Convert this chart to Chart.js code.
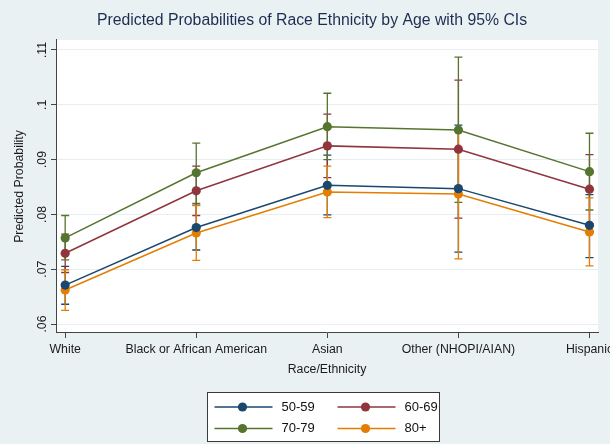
<!DOCTYPE html>
<html>
<head>
<meta charset="utf-8">
<title>Predicted Probabilities of Race Ethnicity by Age</title>
<script src="https://cdn.jsdelivr.net/npm/chart.js@4.4.1/dist/chart.umd.min.js"></script>
<style>
  html, body { margin: 0; padding: 0; background: #eaf1f3; overflow: hidden; }
  #wrap { width: 610px; height: 444px; }
</style>
</head>
<body>
<div id="wrap"><canvas id="chart" width="610" height="444"></canvas></div>
<script>
// Race/ethnicity groups along the x axis
const categories = ['White', 'Black or African American', 'Asian', 'Other (NHOPI/AIAN)', 'Hispanic'];

// Y axis ticks
const yTickValues = [0.06, 0.07, 0.08, 0.09, 0.10, 0.11];
const yTickLabels = ['.06', '.07', '.08', '.09', '.1', '.11'];

// Age group labels
const ageGroups = ['50-59', '60-69', '70-79', '80+'];

// Predicted probabilities with 95% confidence limits, per age group
const age50 = [0.0671, 0.0776, 0.0853, 0.0847, 0.0780];
const age50Low = [0.0636, 0.0735, 0.0799, 0.0731, 0.0721];
const age50High = [0.0705, 0.0817, 0.0908, 0.0963, 0.0836];

const age60 = [0.0729, 0.0843, 0.0925, 0.0919, 0.0846];
const age60Low = [0.0694, 0.0798, 0.0867, 0.0793, 0.0783];
const age60High = [0.0764, 0.0888, 0.0983, 0.1045, 0.0909];

const age70 = [0.0757, 0.0876, 0.0960, 0.0954, 0.0878];
const age70Low = [0.0717, 0.0820, 0.0900, 0.0822, 0.0808];
const age70High = [0.0798, 0.0930, 0.1021, 0.1087, 0.0948];

const age80 = [0.0662, 0.0766, 0.0841, 0.0837, 0.0768];
const age80Low = [0.0625, 0.0716, 0.0794, 0.0719, 0.0706];
const age80High = [0.0699, 0.0816, 0.0888, 0.0955, 0.0830];

const seriesColors = ['#1a476f', '#90353b', '#55752f', '#e37e00'];
const FONT = "'Liberation Sans', Arial, Helvetica, sans-serif";

function makeSeries(label, values, low, high, color) {
  return {
    label: label,
    data: values.map((v, i) => ({ x: i, y: v })),
    ciLow: low,
    ciHigh: high,
    borderColor: color,
    backgroundColor: color,
    pointBackgroundColor: color,
    pointBorderColor: color,
    borderWidth: 1.5,
    pointRadius: 4.6,
    pointBorderWidth: 0,
    tension: 0
  };
}

// Graph region tint and white plot region
const backgroundPlugin = {
  id: 'regions',
  beforeDraw(chart) {
    const { ctx, chartArea } = chart;
    ctx.save();
    ctx.fillStyle = '#eaf1f3';
    ctx.fillRect(0, 0, chart.width, chart.height);
    ctx.fillStyle = '#ffffff';
    ctx.fillRect(chartArea.left, chartArea.top, chartArea.right - chartArea.left, chartArea.bottom - chartArea.top);
    ctx.restore();
  }
};

// Capped confidence-interval spikes, drawn beneath the lines and markers
const ciPlugin = {
  id: 'ciCaps',
  beforeDatasetsDraw(chart) {
    const { ctx } = chart;
    const xs = chart.scales.x, ys = chart.scales.y;
    ctx.save();
    ctx.lineWidth = 1.3;
    chart.data.datasets.forEach(ds => {
      ctx.strokeStyle = ds.borderColor;
      ds.ciLow.forEach((lo, i) => {
        const px = xs.getPixelForValue(i);
        const y0 = ys.getPixelForValue(lo);
        const y1 = ys.getPixelForValue(ds.ciHigh[i]);
        ctx.beginPath();
        ctx.moveTo(px, y0); ctx.lineTo(px, y1);
        ctx.moveTo(px - 4, y0); ctx.lineTo(px + 4, y0);
        ctx.moveTo(px - 4, y1); ctx.lineTo(px + 4, y1);
        ctx.stroke();
      });
    });
    ctx.restore();
  }
};

// Legend with line-and-marker keys in a boxed two-column grid
const keyLegendPlugin = {
  id: 'keyLegend',
  afterDraw(chart) {
    const { ctx } = chart;
    const box = { x: 207.5, y: 392.5, w: 232, h: 49 };
    ctx.save();
    ctx.fillStyle = '#ffffff';
    ctx.fillRect(box.x, box.y, box.w, box.h);
    ctx.strokeStyle = '#3a3a3a';
    ctx.lineWidth = 1;
    ctx.strokeRect(box.x, box.y, box.w, box.h);
    ctx.font = '13px ' + FONT;
    ctx.textBaseline = 'middle';
    ctx.textAlign = 'left';
    chart.data.datasets.forEach((ds, i) => {
      const col = i % 2, row = Math.floor(i / 2);
      const lx = box.x + 7 + col * 123;
      const ly = box.y + 14.5 + row * 21.5;
      ctx.strokeStyle = ds.borderColor;
      ctx.lineWidth = 1.5;
      ctx.beginPath();
      ctx.moveTo(lx, ly); ctx.lineTo(lx + 58, ly);
      ctx.stroke();
      ctx.fillStyle = ds.borderColor;
      ctx.beginPath();
      ctx.arc(lx + 28, ly, 4.6, 0, Math.PI * 2);
      ctx.fill();
      ctx.fillStyle = '#111111';
      ctx.fillText(ds.label, lx + 67, ly);
    });
    ctx.restore();
  }
};

new Chart(document.getElementById('chart'), {
  type: 'line',
  data: {
    datasets: [
      makeSeries(ageGroups[0], age50, age50Low, age50High, seriesColors[0]),
      makeSeries(ageGroups[1], age60, age60Low, age60High, seriesColors[1]),
      makeSeries(ageGroups[2], age70, age70Low, age70High, seriesColors[2]),
      makeSeries(ageGroups[3], age80, age80Low, age80High, seriesColors[3])
    ]
  },
  options: {
    responsive: false,
    devicePixelRatio: 1,
    animation: false,
    layout: { padding: { left: 26, right: 12, top: 0, bottom: 63 } },
    plugins: {
      legend: { display: false },
      tooltip: { enabled: false },
      title: {
        display: true,
        text: 'Predicted Probabilities of Race Ethnicity by Age with 95% CIs',
        color: '#1c2d52',
        font: { family: FONT, size: 15.8, weight: 'normal' },
        padding: { top: 11, bottom: 10 }
      }
    },
    scales: {
      x: {
        type: 'linear',
        min: -0.07,
        max: 4.065,
        afterBuildTicks: s => { s.ticks = categories.map((_, i) => ({ value: i })); },
        afterFit: s => { s.height = 48; s.paddingLeft = 0; s.paddingRight = 0; },
        ticks: {
          autoSkip: false,
          maxRotation: 0,
          padding: 4,
          color: '#1a1a1a',
          font: { family: FONT, size: 12.3 },
          callback: (v) => categories[v]
        },
        grid: { drawOnChartArea: false, drawTicks: true, tickLength: 5, tickColor: '#444444' },
        border: { display: true, color: '#444444', width: 1 },
        title: {
          display: true,
          text: 'Race/Ethnicity',
          color: '#1a1a1a',
          font: { family: FONT, size: 12.3 },
          padding: { top: 0, bottom: 4 }
        }
      },
      y: {
        min: 0.058358,
        max: 0.111825,
        afterBuildTicks: s => { s.ticks = yTickValues.map(v => ({ value: v })); },
        afterFit: s => { s.width = 30; s.paddingTop = 0; s.paddingBottom = 0; },
        ticks: {
          autoSkip: false,
          minRotation: 90,
          maxRotation: 90,
          crossAlign: 'center',
          padding: 0,
          color: '#1a1a1a',
          font: { family: FONT, size: 12.3 },
          callback: (v, i) => yTickLabels[i]
        },
        grid: { color: '#e6eef0', lineWidth: 1, drawTicks: true, tickLength: 5, tickColor: '#444444' },
        border: { display: true, color: '#444444', width: 1 },
        title: {
          display: true,
          text: 'Predicted Probability',
          color: '#1a1a1a',
          font: { family: FONT, size: 12.3 },
          padding: { top: -14, bottom: 0 }
        }
      }
    }
  },
  plugins: [backgroundPlugin, ciPlugin, keyLegendPlugin]
});
</script>
</body>
</html>
